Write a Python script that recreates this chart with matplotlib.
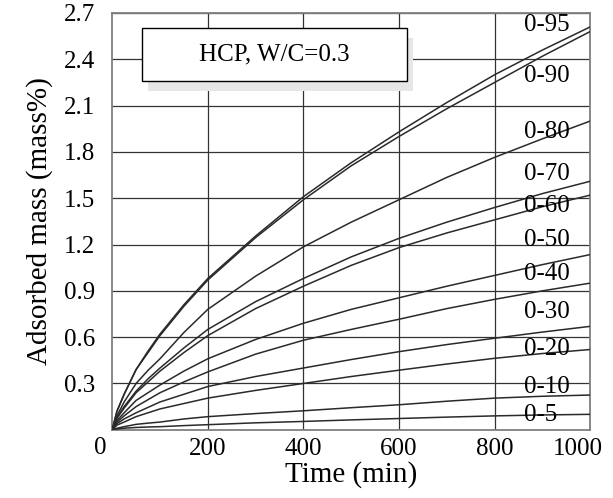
import numpy as np
import matplotlib.pyplot as plt
import matplotlib.transforms as mtransforms
from matplotlib.patches import Rectangle

plt.rcParams['font.family'] = ['Liberation Serif', 'DejaVu Serif']

# time points (min)
t = [0, 10, 25, 50, 75, 100, 150, 200, 300, 400, 500, 600, 700, 800, 900, 1000]

# adsorbed mass (mass%) for each RH step
labels = ['0-95', '0-90', '0-80', '0-70', '0-60', '0-50', '0-40', '0-30', '0-20', '0-10', '0-5']
m95 = [0, 0.12, 0.23, 0.39, 0.51, 0.62, 0.81, 0.98, 1.255, 1.51, 1.73, 1.93, 2.12, 2.30, 2.46, 2.61]
m90 = [0, 0.12, 0.23, 0.39, 0.50, 0.61, 0.80, 0.97, 1.245, 1.49, 1.71, 1.90, 2.08, 2.25, 2.42, 2.58]
m80 = [0, 0.09, 0.18, 0.30, 0.385, 0.46, 0.63, 0.78, 0.995, 1.185, 1.345, 1.49, 1.635, 1.765, 1.885, 2.00]
m70 = [0, 0.08, 0.15, 0.25, 0.33, 0.40, 0.53, 0.65, 0.83, 0.98, 1.12, 1.24, 1.345, 1.44, 1.53, 1.61]
m60 = [0, 0.075, 0.14, 0.24, 0.31, 0.38, 0.50, 0.61, 0.785, 0.93, 1.065, 1.18, 1.275, 1.36, 1.445, 1.52]
m50 = [0, 0.06, 0.11, 0.19, 0.24, 0.29, 0.38, 0.46, 0.585, 0.69, 0.78, 0.855, 0.93, 1.00, 1.07, 1.135]
m40 = [0, 0.05, 0.09, 0.15, 0.195, 0.24, 0.31, 0.375, 0.49, 0.58, 0.65, 0.716, 0.785, 0.845, 0.90, 0.95]
m30 = [0, 0.04, 0.07, 0.11, 0.145, 0.18, 0.23, 0.28, 0.345, 0.40, 0.455, 0.506, 0.552, 0.593, 0.633, 0.67]
m20 = [0, 0.03, 0.05, 0.085, 0.11, 0.135, 0.17, 0.205, 0.255, 0.30, 0.345, 0.386, 0.426, 0.463, 0.494, 0.52]
m10 = [0, 0.01, 0.02, 0.035, 0.043, 0.05, 0.07, 0.085, 0.105, 0.123, 0.143, 0.162, 0.185, 0.205, 0.217, 0.225]
m5 = [0, 0.005, 0.01, 0.015, 0.018, 0.02, 0.027, 0.033, 0.045, 0.054, 0.064, 0.073, 0.082, 0.09, 0.096, 0.10]
series = [m95, m90, m80, m70, m60, m50, m40, m30, m20, m10, m5]

# label heights (mass%)
label_y = [2.62, 2.29, 1.93, 1.66, 1.45, 1.23, 1.01, 0.76, 0.52, 0.275, 0.094]

fig = plt.figure(figsize=(6.13, 4.98), dpi=100)
ax = fig.add_axes([0.183, 0.137, 0.780, 0.837])

for s in series:
    ax.plot(t, s, color='#2a2a2a', lw=1.1, zorder=3)

for lab, y in zip(labels, label_y):
    ax.text(862, y, lab, fontsize=18, ha='left', va='center', zorder=4)

ax.set_xlim(0, 1000)
ax.set_ylim(0, 2.7)
ax.set_xticks([200, 400, 600, 800, 1000])
ax.set_yticks(np.arange(0.3, 2.71, 0.3))
ax.set_yticklabels([f'{v:.1f}' for v in np.arange(0.3, 2.71, 0.3)])
ax.tick_params(length=0, labelsize=18)
ax.tick_params(axis='y', pad=12)
ax.tick_params(axis='x', pad=6)
ax.grid(True, color='#333333', lw=0.9)
ax.set_axisbelow(True)
for sp in ax.spines.values():
    sp.set_color('#808080')
    sp.set_linewidth(1.3)

# last x label sits a bit left so it stays inside the figure
last = ax.get_xticklabels()[-1]
last.set_transform(last.get_transform() +
                   mtransforms.ScaledTranslation(-12 / 100, 0, fig.dpi_scale_trans))

ax.text(-25, -0.12, '0', fontsize=18, ha='center', va='center')

ax.set_xlabel('Time (min)', fontsize=21, labelpad=1)
ax.set_ylabel('Adsorbed mass (mass%)', fontsize=21, labelpad=8)

# title box with grey shadow
bx, by, bw, bh = 62, 2.26, 555, 0.345
ax.add_patch(Rectangle((bx + 12, by - 0.065), bw, bh, facecolor='#e6e6e6',
                       edgecolor='none', zorder=2))
ax.add_patch(Rectangle((bx, by), bw, bh, facecolor='white',
                       edgecolor='black', lw=1.0, zorder=2.5))
ax.text(bx + bw / 2, by + bh / 2, 'HCP, W/C=0.3', fontsize=18,
        ha='center', va='center', zorder=3)

fig.savefig('out.png', dpi=100)
